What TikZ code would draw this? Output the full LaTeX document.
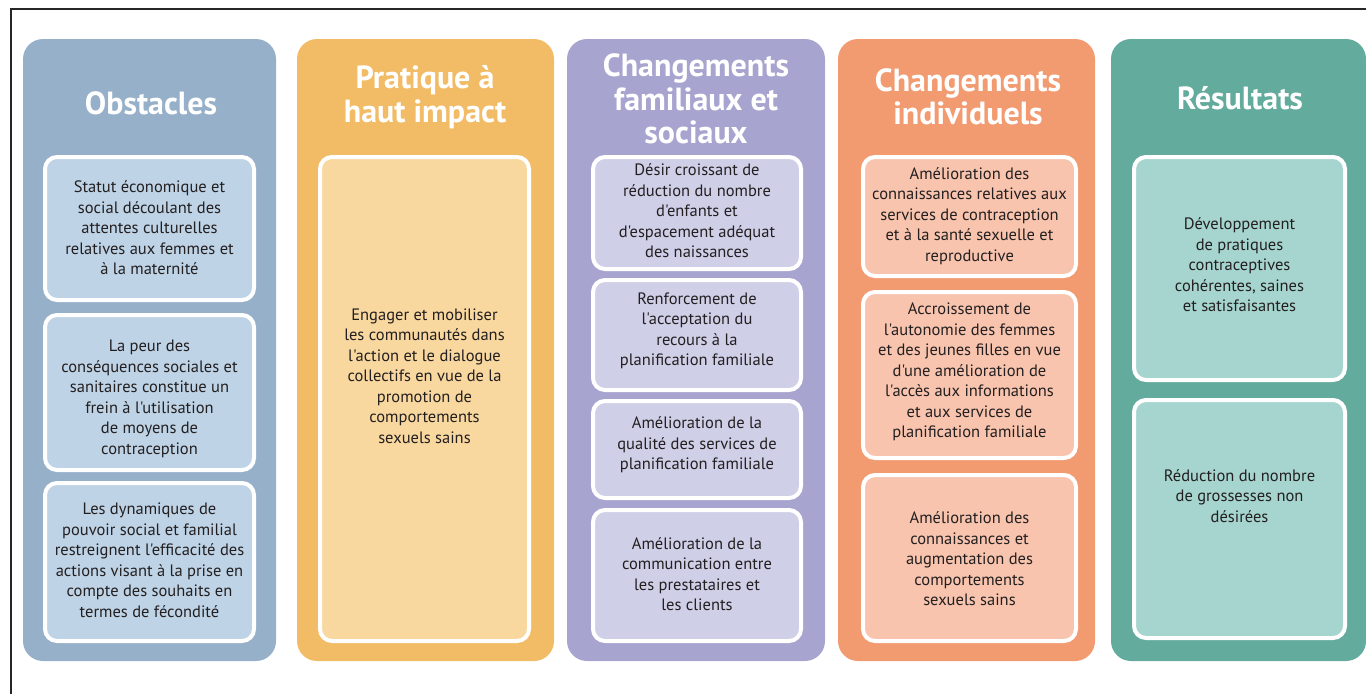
\documentclass[tikz,border=0pt]{standalone}
\usepackage{fontspec}
\setmainfont{PT Sans}[Ligatures=TeXOff]
\usetikzlibrary{fit}
\definecolor{txt}{HTML}{231F20}
\definecolor{oA}{HTML}{97B0C9}\definecolor{iA}{HTML}{BED3E6}
\definecolor{oB}{HTML}{F2BC67}\definecolor{iB}{HTML}{F9D8A0}
\definecolor{oC}{HTML}{A7A4CF}\definecolor{iC}{HTML}{D0CFE8}
\definecolor{oD}{HTML}{F29A70}\definecolor{iD}{HTML}{F8C4AE}
\definecolor{oE}{HTML}{63AB9D}\definecolor{iE}{HTML}{A5D5CE}
\tikzset{
  colbox/.style={rounded corners=20pt, inner sep=0pt, draw=none},
  ibox/.style={rounded corners=12pt, inner sep=-2pt, draw=white, line width=4pt},
  title/.style={text=white, align=center, font=\fontsize{32}{33.5}\selectfont\bfseries},
  body/.style={text=txt, align=center, font=\fontsize{16.5}{20.5}\selectfont, inner sep=0pt},
  frame/.style={draw=black!85, line width=1.3pt}
}
\begin{document}
\begin{tikzpicture}[x=1pt,y=-1pt]
\useasboundingbox (0,0) rectangle (1366,694);
\coordinate (fa) at (11,694); \coordinate (fb) at (11,9); \coordinate (fc) at (1366,9);
\draw[frame] (fa) -- (fb) -- (fc);
% columns
\node[colbox, fill=oA, fit={(23,39)(276,661)}] (c1) {};
\node[colbox, fill=oB, fit={(297,39)(554,661)}] (c2) {};
\node[colbox, fill=oC, fit={(567,39)(825,661)}] (c3) {};
\node[colbox, fill=oD, fit={(838,39)(1095,661)}] (c4) {};
\node[colbox, fill=oE, fit={(1111,39)(1366,661)}] (c5) {};
% titles
\node[title] (t1) at (151,103) {Obstacles};
\node[title] (t2) at (425,97) {Pratique à\\haut impact};
\node[title] (t3) at (696,99) {Changements\\familiaux et\\sociaux};
\node[title] (t4) at (968,97) {Changements\\individuels};
\node[title] (t5) at (1240,98) {Résultats};
% column 1
\node[ibox, fill=iA, fit={(43,155)(256,302)}] (a1) {};
\node[ibox, fill=iA, fit={(43,313)(256,472)}] (a2) {};
\node[ibox, fill=iA, fit={(43,481)(256,643)}] (a3) {};
\node[body] (ta1) at (149.5,228) {Statut économique et\\social découlant des\\attentes culturelles\\relatives aux femmes et\\à la maternité};
\node[body] (ta2) at (149.5,399) {La peur des\\conséquences sociales et\\sanitaires constitue un\\frein à l'utilisation\\de moyens de\\contraception};
\node[body] (ta3) at (149.5,560) {Les dynamiques de\\pouvoir social et familial\\restreignent l'efficacité des\\actions visant à la prise en\\compte des souhaits en\\termes de fécondité};
% column 2
\node[ibox, fill=iB, fit={(318,155)(531,643)}] (b1) {};
\node[body] (tb1) at (424.5,376) {Engager et mobiliser\\les communautés dans\\l'action et le dialogue\\collectifs en vue de la\\promotion de\\comportements\\sexuels sains};
% column 3
\node[ibox, fill=iC, fit={(591,155)(803,271)}] (d1) {};
\node[ibox, fill=iC, fit={(591,278)(803,392)}] (d2) {};
\node[ibox, fill=iC, fit={(591,399)(803,500)}] (d3) {};
\node[ibox, fill=iC, fit={(591,508)(803,643)}] (d4) {};
\node[body] (td1) at (697,211) {Désir croissant de\\réduction du nombre\\d'enfants et\\d'espacement adéquat\\des naissances};
\node[body] (td2) at (697,331) {Renforcement de\\l'acceptation du\\recours à la\\planification familiale};
\node[body] (td3) at (697,445) {Amélioration de la\\qualité des services de\\planification familiale};
\node[body] (td4) at (697,574) {Amélioration de la\\communication entre\\les prestataires et\\les clients};
% column 4
\node[ibox, fill=iD, fit={(861,155)(1078,278)}] (e1) {};
\node[ibox, fill=iD, fit={(861,290)(1078,460)}] (e2) {};
\node[ibox, fill=iD, fit={(861,473)(1078,643)}] (e3) {};
\node[body] (te1) at (969.5,216) {Amélioration des\\connaissances relatives aux\\services de contraception\\et à la santé sexuelle et\\reproductive};
\node[body] (te2) at (969.5,372) {Accroissement de\\l'autonomie des femmes\\et des jeunes filles en vue\\d'une amélioration de\\l'accès aux informations\\et aux services de\\planification familiale};
\node[body] (te3) at (969.5,559) {Amélioration des\\connaissances et\\augmentation des\\comportements\\sexuels sains};
% column 5
\node[ibox, fill=iE, fit={(1132,155)(1347,382)}] (g1) {};
\node[ibox, fill=iE, fit={(1132,398)(1347,640)}] (g2) {};
\node[body] (tg1) at (1239.5,265) {Développement\\de pratiques\\contraceptives\\cohérentes, saines\\et satisfaisantes};
\node[body] (tg2) at (1239.5,496) {Réduction du nombre\\de grossesses non\\désirées};
\end{tikzpicture}
\end{document}
